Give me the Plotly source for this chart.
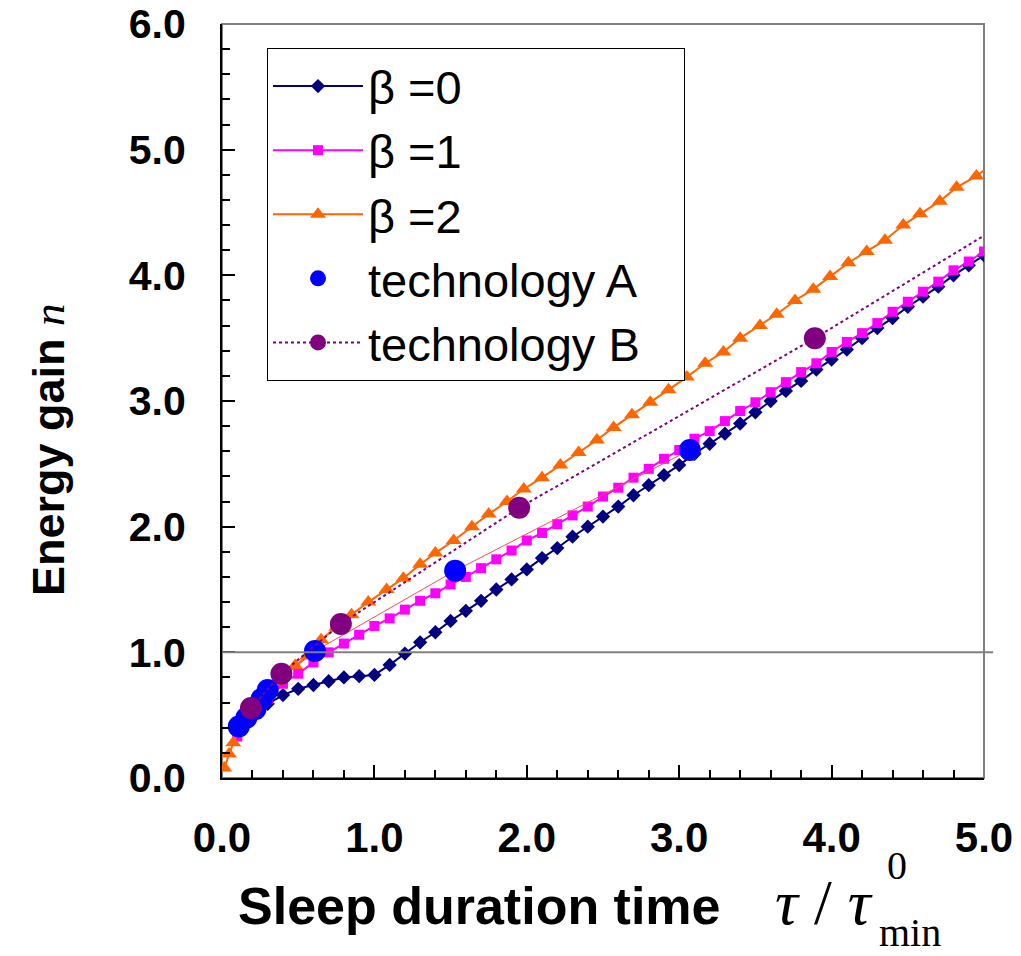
import plotly.graph_objects as go

# ---------------- data ----------------
x_b0 = [0.1, 0.2, 0.3, 0.4, 0.5, 0.6, 0.7, 0.8, 0.9, 1.0,
        1.1, 1.2, 1.3, 1.4, 1.5, 1.6, 1.7, 1.8, 1.9, 2.0,
        2.1, 2.2, 2.3, 2.4, 2.5, 2.6, 2.7, 2.8, 2.9, 3.0,
        3.1, 3.2, 3.3, 3.4, 3.5, 3.6, 3.7, 3.8, 3.9, 4.0,
        4.1, 4.2, 4.3, 4.4, 4.5, 4.6, 4.7, 4.8, 4.9, 5.0]
y_b0 = [0.36, 0.49, 0.59, 0.66, 0.71, 0.74, 0.77, 0.80, 0.81, 0.82,
        0.90, 0.99, 1.08, 1.16, 1.25, 1.33, 1.41, 1.50, 1.58, 1.66,
        1.75, 1.83, 1.92, 2.00, 2.08, 2.16, 2.25, 2.33, 2.41, 2.49,
        2.58, 2.66, 2.74, 2.82, 2.91, 3.00, 3.08, 3.16, 3.25, 3.33,
        3.41, 3.50, 3.58, 3.66, 3.75, 3.83, 3.91, 4.00, 4.08, 4.16]

x_b1 = x_b0
y_b1 = [0.33, 0.50, 0.63, 0.75, 0.83, 0.92, 1.00, 1.07, 1.14, 1.21,
        1.27, 1.34, 1.41, 1.47, 1.54, 1.60, 1.67, 1.74, 1.81, 1.89,
        1.95, 2.02, 2.09, 2.16, 2.24, 2.31, 2.39, 2.46, 2.54, 2.61,
        2.70, 2.76, 2.84, 2.92, 2.99, 3.07, 3.15, 3.23, 3.30, 3.39,
        3.47, 3.54, 3.62, 3.71, 3.79, 3.87, 3.95, 4.04, 4.11, 4.19]

x_b2 = [0.015, 0.046, 0.074, 0.12, 0.24, 0.36, 0.48, 0.56, 0.65, 0.75,
        0.85, 0.96, 1.08, 1.19, 1.30, 1.40, 1.52, 1.64, 1.75, 1.87,
        1.98, 2.10, 2.22, 2.34, 2.46, 2.57, 2.69, 2.81, 2.93, 3.05,
        3.17, 3.29, 3.40, 3.53, 3.64, 3.76, 3.88, 3.99, 4.11, 4.23,
        4.35, 4.47, 4.58, 4.71, 4.82, 4.95, 5.07]
y_b2 = [0.08, 0.19, 0.28, 0.41, 0.61, 0.77, 0.895, 0.97, 1.10, 1.20,
        1.30, 1.40, 1.50, 1.59, 1.70, 1.79, 1.89, 2.00, 2.10, 2.20,
        2.30, 2.39, 2.49, 2.59, 2.69, 2.79, 2.89, 2.99, 3.09, 3.19,
        3.30, 3.39, 3.50, 3.60, 3.69, 3.80, 3.89, 3.99, 4.10, 4.19,
        4.28, 4.40, 4.49, 4.59, 4.70, 4.79, 4.90]

x_techA = [0.11, 0.16, 0.22, 0.26, 0.30, 0.61, 1.53, 3.07]
y_techA = [0.41, 0.48, 0.55, 0.63, 0.70, 1.01, 1.65, 2.61]

x_techB = [0.19, 0.39, 0.78, 1.95, 3.89]
y_techB = [0.557, 0.83, 1.226, 2.15, 3.50]
# dotted continuation of the technology B line past the last point
x_techB_ext = [3.89, 5.06]
y_techB_ext = [3.50, 4.36]

x_ticks = [0, 1, 2, 3, 4, 5]
x_tick_text = ["0.0", "1.0", "2.0", "3.0", "4.0", "5.0"]
y_ticks = [0, 1, 2, 3, 4, 5, 6]
y_tick_text = ["0.0", "1.0", "2.0", "3.0", "4.0", "5.0", "6.0"]

SANS = "Liberation Sans, Arial, sans-serif"
NARROW = "Liberation Sans Narrow, Arial Narrow, Liberation Sans, sans-serif"
SERIF = "Liberation Serif, Times New Roman, serif"
PAD = "\u00a0\u00a0\u00a0"

fig = go.Figure()

fig.add_trace(go.Scatter(
    x=x_b0, y=y_b0, mode="lines+markers", name="β =0",
    line=dict(color="#000080", width=2),
    marker=dict(symbol="diamond", size=11, color="#000080")))
fig.add_trace(go.Scatter(
    x=x_b1, y=y_b1, mode="lines+markers", name="β =1",
    line=dict(color="#FF00FF", width=2),
    marker=dict(symbol="square", size=10, color="#FF00FF")))
fig.add_trace(go.Scatter(
    x=x_b2, y=y_b2, mode="lines+markers", name="β =2",
    line=dict(color="#FF6600", width=2),
    marker=dict(symbol="triangle-up", size=14, color="#FF6600")))
# thin red line joining technology A points
fig.add_trace(go.Scatter(
    x=x_techA, y=y_techA, mode="lines", showlegend=False, hoverinfo="skip",
    line=dict(color="#FF4D4D", width=1)))
fig.add_trace(go.Scatter(
    x=x_techB_ext, y=y_techB_ext, mode="lines", showlegend=False, hoverinfo="skip",
    line=dict(color="#800080", width=2, dash="dot")))
fig.add_trace(go.Scatter(
    x=x_techA, y=y_techA, mode="markers", name="technology A" + PAD,
    marker=dict(symbol="circle", size=22, color="#0000FF")))
fig.add_trace(go.Scatter(
    x=x_techB, y=y_techB, mode="lines+markers", name="technology B" + PAD,
    line=dict(color="#800080", width=2, dash="dot"),
    marker=dict(symbol="circle", size=22, color="#800080")))

L, R, T, B = 222, 37, 24, 178
W, H = 1021, 956
pw, ph = W - L - R, H - T - B


def px(xp):
    return (xp - L) / pw


def py(yp):
    return (H - B - yp) / ph


fig.update_layout(
    width=W, height=H, autosize=False,
    margin=dict(l=L, r=R, t=T, b=B, pad=0, autoexpand=False),
    paper_bgcolor="white", plot_bgcolor="white",
    font=dict(family=SANS, color="black"),
    showlegend=True,
    legend=dict(
        x=px(267), y=py(48), xanchor="left", yanchor="top",
        bgcolor="white", bordercolor="black", borderwidth=1,
        font=dict(family=SANS, size=47, color="black"),
        itemwidth=90, tracegroupgap=0,
    ),
)

fig.update_xaxes(
    range=[0, 5], tickvals=x_ticks, ticktext=x_tick_text,
    showgrid=False, zeroline=False, automargin=False,
    showline=True, linecolor="black", linewidth=2,
    ticks="inside", ticklen=13, tickwidth=1.5, tickcolor="black",
    minor=dict(dtick=0.2, ticks="inside", ticklen=8, tickwidth=1.5,
               tickcolor="black", showgrid=False),
    tickfont=dict(family=SANS, size=42, color="black", weight="bold"),
    ticklabelstandoff=22, ticklabeloverflow="allow",
)
fig.update_yaxes(
    range=[0, 6], tickvals=y_ticks, ticktext=y_tick_text,
    showgrid=False, zeroline=False, automargin=False,
    showline=True, linecolor="black", linewidth=2,
    ticks="inside", ticklen=13, tickwidth=1.5, tickcolor="black",
    minor=dict(dtick=0.2, ticks="inside", ticklen=8, tickwidth=1.5,
               tickcolor="black", showgrid=False),
    tickfont=dict(family=SANS, size=41, color="black", weight="bold"),
    ticklabelstandoff=26, ticklabeloverflow="allow",
)

# plot frame (top/right grey) and the n = 1 reference line
fig.add_shape(type="rect", xref="paper", yref="paper", x0=0, y0=0, x1=1, y1=1,
              line=dict(color="#808080", width=2), layer="below")
fig.add_shape(type="line", xref="paper", yref="y", x0=0, x1=1.012, y0=1, y1=1,
              line=dict(color="#808080", width=2), layer="above")

# axis titles
fig.add_annotation(
    xref="paper", yref="paper", x=px(48), y=py(450),
    xanchor="center", yanchor="middle", textangle=-90, showarrow=False,
    text="<b>Energy gain</b> <span style='font-family:Liberation Serif;font-style:italic'>n</span>",
    font=dict(family=NARROW, size=45, color="black"))
fig.add_annotation(
    xref="paper", yref="paper", x=px(236), y=py(906),
    xanchor="left", yanchor="middle", showarrow=False,
    text="<b>Sleep duration time</b>",
    font=dict(family=SANS, size=52, color="black"))
fig.add_annotation(
    xref="paper", yref="paper", x=px(773), y=py(902),
    xanchor="left", yanchor="middle", showarrow=False,
    text="<i>τ</i> / <i>τ</i>",
    font=dict(family=SERIF, size=64, color="black"))
fig.add_annotation(
    xref="paper", yref="paper", x=px(897), y=py(866),
    xanchor="center", yanchor="middle", showarrow=False,
    text="0", font=dict(family=SERIF, size=40, color="black"))
fig.add_annotation(
    xref="paper", yref="paper", x=px(910), y=py(932),
    xanchor="center", yanchor="middle", showarrow=False,
    text="min", font=dict(family=SERIF, size=40, color="black"))

fig.write_html("out.html")
